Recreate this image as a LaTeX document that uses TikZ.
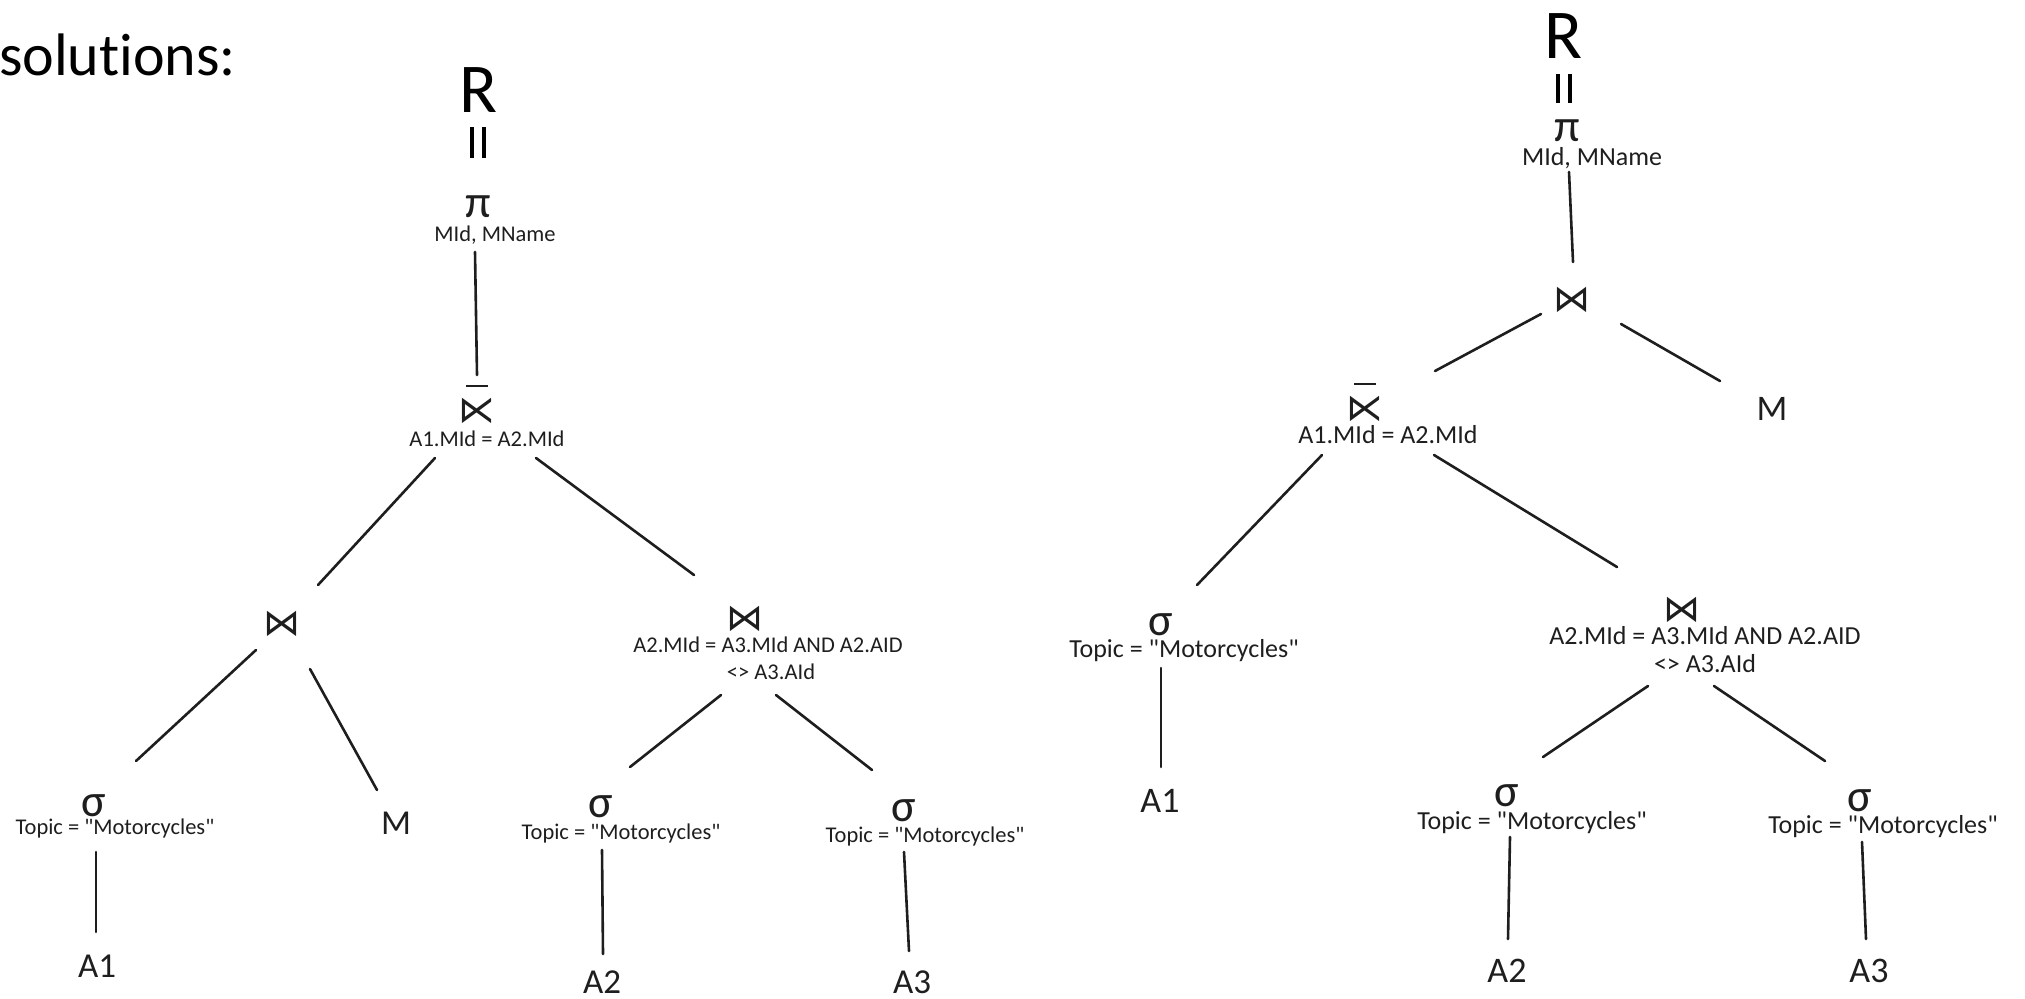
\documentclass[tikz,border=0pt]{standalone}
\usepackage{fontspec}
\setmainfont{Carlito}[Ligatures={TeXOff,CommonOff}]
\newfontfamily\symfont{DejaVu Sans}
\usetikzlibrary{calc}
\newcommand\fsz[1]{\fontsize{#1}{#1}\selectfont}
\definecolor{ink}{HTML}{1E1E1E}
\begin{document}
\begin{tikzpicture}[x=1pt,y=-1pt,
  every node/.style={inner sep=0pt, outer sep=0pt},
  edge/.style={line width=2.6pt, draw=ink, line cap=round},
  bar/.style={line width=2.8pt, draw=ink},
  eqbar/.style={line width=3.4pt, draw=black},
  title/.style={font=\fsz{60}, text=black, anchor=base east},
  big/.style={font=\fsz{70}, text=black},
  greek/.style={font=\fsz{46}, text=ink},
  op/.style={font=\symfont\fsz{37}, text=ink},
  txtL/.style={font=\fsz{22.5}, text=ink, anchor=base},
  txtR/.style={font=\fsz{26}, text=ink, anchor=base},
  leafL/.style={font=\fsz{35}, text=ink},
  leafR/.style={font=\fsz{36}, text=ink}
]
\useasboundingbox (0,0) rectangle (2025,998);

\node[title] (sol) at (236,75) {solutions:};

% ---------------- left tree ----------------
\node[big] (RL) at (478,90) {R};
\draw[eqbar] ($(RL)+(-6,37)$) -- ($(RL)+(-6,68)$);
\draw[eqbar] ($(RL)+(6,37)$) -- ($(RL)+(6,68)$);
\node[greek] (piL) at (478,207) {π};
\node[txtL] (projL) at (495,241) {MId, MName};
\node[op] (ajL) at (477,411) {⋉};
\draw[bar] ($(ajL)+(-11,-25)$) -- ($(ajL)+(11,-25)$);
\node[txtL] (ajcL) at (487,446) {A1.MId = A2.MId};
\node[op] (jL) at (282,624) {⋈};
\node[greek] (sL1) at (94,806) {σ};
\node[txtL] (tL1) at (115,834) {Topic = "Motorcycles"};
\node[leafL] (a1L) at (97,966) {A1};
\node[leafL] (mL) at (396,823) {M};
\node[op] (jRL) at (745,619) {⋈};
\node[txtL] (c1L) at (768,652) {A2.MId = A3.MId AND A2.AID};
\node[txtL] (c2L) at (771,679) {<> A3.AId};
\node[greek] (sL2) at (601,807) {σ};
\node[txtL] (tL2) at (621,839) {Topic = "Motorcycles"};
\node[leafL] (a2L) at (602,982) {A2};
\node[greek] (sL3) at (904,811) {σ};
\node[txtL] (tL3) at (925,842) {Topic = "Motorcycles"};
\node[leafL] (a3L) at (912,982) {A3};

\draw[edge] ($(piL)+(-3,45)$) -- ($(ajL)+(0,-36)$);
\draw[edge] ($(ajL)+(-42,47)$) -- ($(jL)+(36,-39)$);
\draw[edge] ($(ajL)+(59,47)$) -- ($(jRL)+(-51,-44)$);
\draw[edge] ($(jL)+(-26,26)$) -- ($(sL1)+(42,-45)$);
\draw[edge] ($(jL)+(28,45)$) -- ($(mL)+(-19,-33)$);
\draw[edge] ($(sL1)+(2,46)$) -- ($(a1L)+(-1,-34)$);
\draw[edge] ($(jRL)+(-24,76)$) -- ($(sL2)+(29,-40)$);
\draw[edge] ($(jRL)+(31,76)$) -- ($(sL3)+(-32,-41)$);
\draw[edge] ($(sL2)+(1,43)$) -- ($(a2L)+(1,-28)$);
\draw[edge] ($(sL3)+(0,41)$) -- ($(a3L)+(-3,-31)$);

% ---------------- right tree ----------------
\node[big] (RR) at (1563,36) {R};
\draw[eqbar] ($(RR)+(-5,38)$) -- ($(RR)+(-5,67)$);
\draw[eqbar] ($(RR)+(7,38)$) -- ($(RR)+(7,67)$);
\node[greek] (piR) at (1567,131) {π};
\node[txtR] (projR) at (1592,165) {MId, MName};
\node[op] (jT) at (1572,300) {⋈};
\node[leafR] (mR) at (1772,409) {M};
\node[op] (ajR) at (1365,409) {⋉};
\draw[bar] ($(ajR)+(-11,-25)$) -- ($(ajR)+(11,-25)$);
\node[txtR] (ajcR) at (1388,443) {A1.MId = A2.MId};
\node[greek] (sR1) at (1161,625) {σ};
\node[txtR] (tR1) at (1184,657) {Topic = "Motorcycles"};
\node[leafR] (a1R) at (1160,801) {A1};
\node[op] (jR2) at (1682,610) {⋈};
\node[txtR] (c1R) at (1705,644) {A2.MId = A3.MId AND A2.AID};
\node[txtR] (c2R) at (1705,672) {<> A3.AId};
\node[greek] (sR2) at (1507,796) {σ};
\node[txtR] (tR2) at (1532,829) {Topic = "Motorcycles"};
\node[leafR] (a2R) at (1507,971) {A2};
\node[greek] (sR3) at (1860,801) {σ};
\node[txtR] (tR3) at (1883,833) {Topic = "Motorcycles"};
\node[leafR] (a3R) at (1869,971) {A3};

\draw[edge] ($(piR)+(2,41)$) -- ($(jT)+(1,-38)$);
\draw[edge] ($(jT)+(-31,14)$) -- ($(ajR)+(70,-38)$);
\draw[edge] ($(jT)+(49,24)$) -- ($(mR)+(-52,-28)$);
\draw[edge] ($(ajR)+(-43,46)$) -- ($(sR1)+(36,-40)$);
\draw[edge] ($(ajR)+(69,46)$) -- ($(jR2)+(-65,-43)$);
\draw[edge] ($(sR1)+(0,43)$) -- ($(a1R)+(1,-34)$);
\draw[edge] ($(jR2)+(-34,76)$) -- ($(sR2)+(36,-39)$);
\draw[edge] ($(jR2)+(32,76)$) -- ($(sR3)+(-35,-40)$);
\draw[edge] ($(sR2)+(3,41)$) -- ($(a2R)+(1,-32)$);
\draw[edge] ($(sR3)+(2,41)$) -- ($(a3R)+(-3,-32)$);
\end{tikzpicture}
\end{document}
